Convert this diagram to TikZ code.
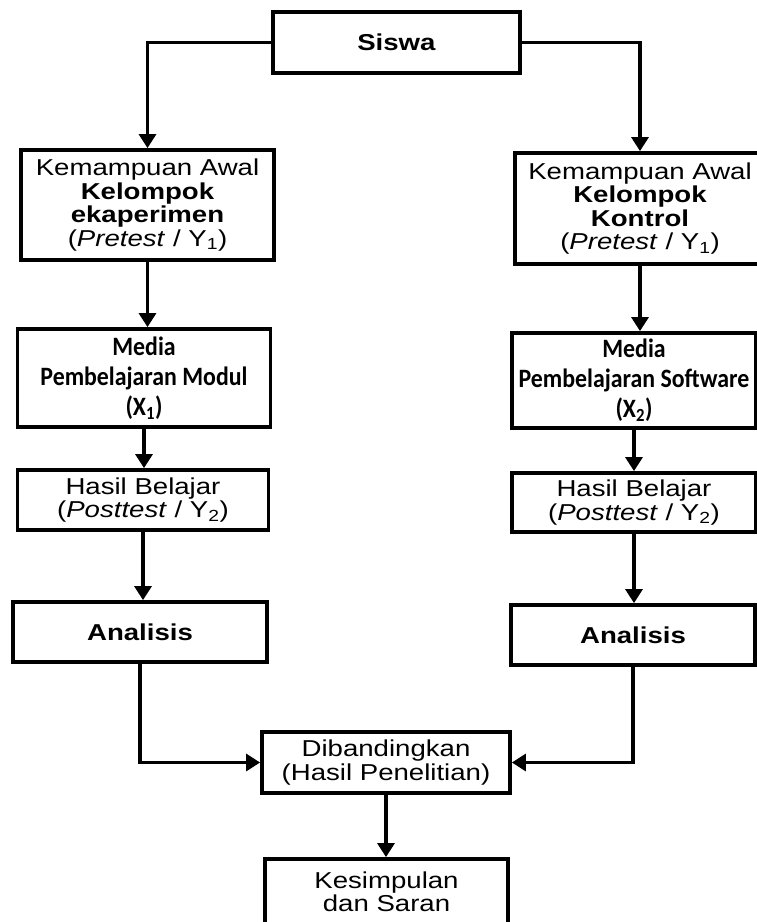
\documentclass[tikz,border=0pt]{standalone}
\usepackage{fontspec}
\setmainfont{Liberation Sans}[FakeStretch=1.2]
\newfontfamily\mediafont{Carlito}[FakeStretch=0.9]
\usetikzlibrary{arrows.meta}
\tikzstyle{flowboxes}=[%
	every path/.style = {%
		black,
		line width=3.2pt
	},%
	myBox/.style={%
		draw,
		line width=3.8pt,
		rectangle,
		align=center,
		inner sep=0pt,
		font=\fontsize{23}{23.5}\selectfont
	},
	myMedia/.style={%
		myBox,
		font=\mediafont\bfseries\fontsize{26.5}{30}\selectfont
	},
	myArrow/.style={%
		-{Triangle[length=14pt,width=17pt]}
	}
]

\begin{document}
\begin{tikzpicture}[
	x=1pt,
	y=-1pt,
	flowboxes
]
	\useasboundingbox [fill=white] (0,0) rectangle (756,922);

	\node[myBox, minimum width=247pt, minimum height=61pt] (siswa) at (396.5,42.5) {\textbf{Siswa}};

	\node[myBox, minimum width=253pt, minimum height=110pt] (awalA) at (147.5,205)
		{Kemampuan Awal\\\textbf{Kelompok}\\\textbf{ekaperimen}\\(\textit{Pretest} / Y\textsubscript{1})};
	\node[myBox, minimum width=250pt, minimum height=111pt] (awalB) at (640,208.5)
		{Kemampuan Awal\\\textbf{Kelompok}\\\textbf{Kontrol}\\(\textit{Pretest} / Y\textsubscript{1})};

	\node[myMedia, minimum width=253pt, minimum height=98pt] (mediaA) at (144,378)
		{Media\\Pembelajaran Modul\\(X\textsubscript{1})};
	\node[myMedia, minimum width=244pt, minimum height=95pt] (mediaB) at (634,380.5)
		{Media\\Pembelajaran Software\\(X\textsubscript{2})};

	\node[myBox, minimum width=251pt, minimum height=60pt] (hasilA) at (143,500)
		{Hasil Belajar\\(\textit{Posttest} / Y\textsubscript{2})};
	\node[myBox, minimum width=244pt, minimum height=59pt] (hasilB) at (634,502.5)
		{Hasil Belajar\\(\textit{Posttest} / Y\textsubscript{2})};

	\node[myBox, minimum width=254pt, minimum height=60pt] (analisisA) at (140,632) {\textbf{Analisis}};
	\node[myBox, minimum width=244pt, minimum height=60pt] (analisisB) at (633,635) {\textbf{Analisis}};

	\node[myBox, minimum width=248pt, minimum height=61pt] (banding) at (386,762.5)
		{Dibandingkan\\(Hasil Penelitian)};
	\node[myBox, minimum width=243pt, minimum height=66pt] (simpulan) at (386.5,892)
		{Kesimpulan\\dan Saran};

	\draw[myArrow] (siswa.west) -| (awalA.north);
	\draw[myArrow] (siswa.east) -| (awalB.north);

	\draw[myArrow] (awalA.south) -- (awalA.south |- mediaA.north);
	\draw[myArrow] (mediaA.south) -- (mediaA.south |- hasilA.north);
	\draw[myArrow] (hasilA.south) -- (hasilA.south |- analisisA.north);

	\draw[myArrow] (awalB.south) -- (awalB.south |- mediaB.north);
	\draw[myArrow] (mediaB.south) -- (mediaB.south |- hasilB.north);
	\draw[myArrow] (hasilB.south) -- (hasilB.south |- analisisB.north);

	\draw[myArrow] (analisisA.south) |- (banding.west);
	\draw[myArrow] (analisisB.south) |- (banding.east);
	\draw[myArrow] (banding.south) -- (banding.south |- simpulan.north);
\end{tikzpicture}
\end{document}
